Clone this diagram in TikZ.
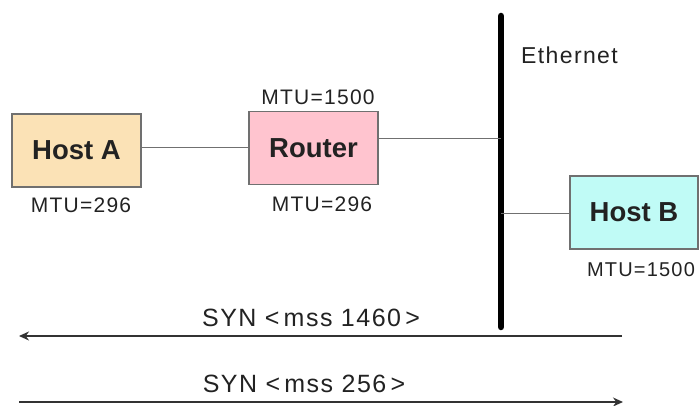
\documentclass[tikz,border=0pt]{standalone}
\usepackage{fontspec}
\setmainfont{Liberation Sans}
\newfontfamily\lsfont{Liberation Sans}[LetterSpace=6]
\usetikzlibrary{arrows.meta}
\definecolor{hostA}{HTML}{FBE2B6}
\definecolor{router}{HTML}{FFC4CF}
\definecolor{hostB}{HTML}{C0FBF6}
\definecolor{edge}{HTML}{707070}
\definecolor{txt}{HTML}{222222}
\tikzset{
  px/.style={x=1pt,y=-1pt},
  box/.style={draw=edge, line width=1.2pt, minimum width=129pt, minimum height=73pt, inner sep=0pt, text=txt, font=\fontsize{27.5}{30}\selectfont\bfseries},
  mtu/.style={inner sep=0pt, text=txt, font=\lsfont\fontsize{21}{23}\selectfont},
  syn/.style={inner sep=0pt, text=txt, font=\lsfont\fontsize{25}{27}\selectfont},
  link/.style={draw=edge, line width=1pt},
  msg/.style={draw=black!80, line width=1.4pt, -{Stealth[length=10pt,width=9pt]}}
}
\begin{document}
\begin{tikzpicture}[px]
\useasboundingbox (0,0) rectangle (699,406);
\node[box, fill=hostA] (A) at (76.5,150.5) {Host A};
\node[box, fill=router] (R) at (313.5,148) {Router};
\node[box, fill=hostB, minimum width=128pt] (B) at (634,212.5) {Host B};
\coordinate (etop) at (501,16);
\coordinate (ebot) at (501,327);
\draw[line width=6.5pt, line cap=round] (etop) -- (ebot);
\node[inner sep=0pt, text=txt, font=\lsfont\fontsize{23}{25}\selectfont, anchor=west] (eth) at (521,55) {Ethernet};
\coordinate (e1) at (501,139);
\coordinate (e2) at (501,214);
\draw[link] (A.east |- 0,148) -- (R.west |- 0,148);
\draw[link] (R.east |- e1) -- (e1);
\draw[link] (e2) -- (B.west |- e2);
\node[mtu] (mA) at (81,205) {MTU=296};
\node[mtu] (mR1) at (318,97) {MTU=1500};
\node[mtu] (mR2) at (322,204) {MTU=296};
\node[mtu, font=\lsfont\fontsize{20}{22}\selectfont] (mB) at (641,270) {MTU=1500};
\coordinate (s1r) at (622,336);
\coordinate (s1l) at (19,336);
\coordinate (s2l) at (19,402);
\coordinate (s2r) at (623,402);
\draw[msg] (s1r) -- (s1l);
\draw[msg] (s2l) -- (s2r);
\node[syn] (t1) at (311,318) {SYN <\,mss 1460\,>};
\node[syn] (t2) at (304,384) {SYN <\,mss 256\,>};
\end{tikzpicture}
\end{document}
